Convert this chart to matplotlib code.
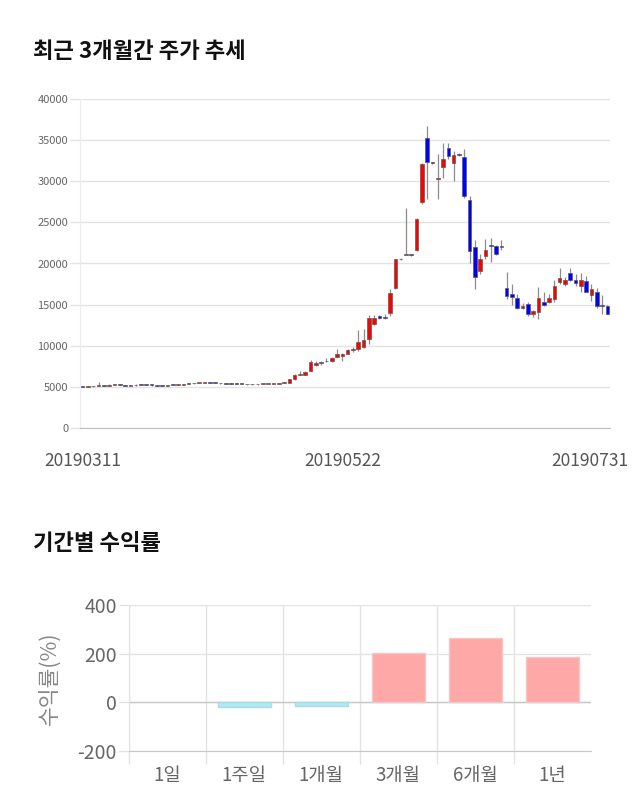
import numpy as np
import matplotlib
matplotlib.use("Agg")
import matplotlib.pyplot as plt
import matplotlib.transforms as mtransforms

plt.rcParams['font.family'] = ['Noto Sans CJK KR', 'DejaVu Sans']
plt.rcParams['axes.unicode_minus'] = False

# -----------------------------------------
# DATA : daily candles (open, high, low, close)
# -----------------------------------------
opens = [5000, 4980, 5050, 5100, 5150, 5120, 5250, 5280, 5200, 5150,
         5180, 5280, 5250, 5300, 5180, 5150, 5130, 5220, 5200, 5250,
         5380, 5420, 5450, 5500, 5550, 5500, 5450, 5420, 5400, 5380,
         5350, 5330, 5300, 5320, 5340, 5350, 5380,
         5350, 5450, 5500, 5900, 6500, 6450, 6950, 7650, 7850, 8100,
         8150, 8650, 8750, 9050, 9450, 9600, 9900, 10800, 12650, 13600,
         13450, 14000, 17000, 20500, 21050, 21100, 21600, 27500, 35200,
         32300, 30300, 31700, 34000, 32200, 33300, 33000, 27700, 22000,
         19050, 20900, 22200, 22100, 22000,
         17050, 16350, 15850, 14550, 15100, 13800, 14150, 15300, 15300,
         15650, 17800, 17550, 18900, 18050, 17250, 17850, 16150, 16550,
         15000, 14800]
highs = [5050, 5080, 5150, 5600, 5200, 5300, 5320, 5300, 5250, 5220,
         5300, 5320, 5300, 5320, 5220, 5200, 5250, 5280, 5300, 5400,
         5450, 5500, 5550, 5600, 5600, 5550, 5500, 5480, 5450, 5420,
         5400, 5380, 5360, 5380, 5380, 5400, 5420,
         5500, 5650, 5950, 6600, 6900, 6950, 8300, 8200, 8150, 8450,
         8600, 9550, 9100, 9600, 9800, 11900, 12000, 13700, 13700, 13700,
         13900, 16900, 20600, 20700, 26700, 21150, 25500, 32200, 36700,
         32400, 33300, 34700, 34700, 33700, 33400, 33900, 28200, 22900,
         21200, 23000, 23150, 22300, 22800,
         18950, 17550, 16250, 15200, 15300, 14400, 17150, 16500, 16250,
         17950, 19400, 18300, 19400, 18700, 18800, 18450, 17450, 17050,
         16200, 15000]
lows = [4950, 4960, 5000, 5080, 5100, 5100, 5200, 5180, 5120, 5100,
        5150, 5220, 5200, 5150, 5120, 5100, 5120, 5180, 5180, 5230,
        5350, 5400, 5420, 5450, 5480, 5420, 5400, 5380, 5350, 5330,
        5300, 5280, 5260, 5280, 5300, 5300, 5330,
        5320, 5420, 5450, 5850, 6400, 6400, 6900, 7500, 7600, 8000,
        8050, 8600, 8100, 8950, 9200, 9400, 9700, 10200, 12500, 13200,
        13250, 13600, 16900, 20400, 21000, 20950, 21500, 27200, 27800,
        32100, 27800, 30450, 32700, 30050, 33100, 28000, 20100, 16950,
        18700, 20600, 20200, 21000, 21600,
        15650, 14900, 14450, 14450, 13650, 13500, 13200, 14800, 15200,
        15350, 17500, 17300, 17850, 17300, 16500, 16500, 15400, 14600,
        13900, 13800]
closes = [4980, 5050, 5100, 5150, 5120, 5250, 5280, 5200, 5150, 5180,
          5280, 5250, 5230, 5180, 5150, 5130, 5220, 5200, 5250, 5380,
          5420, 5450, 5500, 5550, 5500, 5450, 5420, 5400, 5380, 5350,
          5330, 5300, 5320, 5340, 5350, 5380, 5400,
          5450, 5600, 5900, 6500, 6550, 6800, 8050, 7950, 8000, 8200,
          8500, 9050, 9000, 9450, 9600, 10400, 10700, 13350, 13400, 13350,
          13350, 16450, 20500, 20600, 21100, 21000, 25400, 32100, 32300,
          32200, 30350, 32750, 33100, 33200, 33250, 28200, 21500, 18400,
          20600, 21650, 22150, 21200, 22100,
          16050, 15950, 14600, 14800, 13800, 14200, 15750, 14950, 15850,
          17250, 18250, 17950, 18000, 17600, 17950, 16550, 16850, 14800,
          14800, 13800]
date_labels = ["20190311", "20190522", "20190731"]
date_index = [0, 49, 99]

# period returns
periods = ["1일", "1주일", "1개월", "3개월", "6개월", "1년"]
returns = [0.0, -20.0, -16.0, 202.0, 264.0, 186.0]

# -----------------------------------------
# FIGURE
# -----------------------------------------
fig = plt.figure(figsize=(6.4, 8.1), dpi=100)

fig.text(33/640, 1-52/810, "최근 3개월간 주가 추세", fontsize=16, fontweight='bold',
         color='#111111', ha='left', va='center')
fig.text(33/640, 1-544/810, "기간별 수익률", fontsize=16, fontweight='bold',
         color='#111111', ha='left', va='center')

# -----------------------------------------
# CANDLE CHART
# -----------------------------------------
ax = fig.add_axes([80/640, 1-428/810, 530/640, 329/810])

o = np.array(opens, dtype=float)
h = np.array(highs, dtype=float)
l = np.array(lows, dtype=float)
c = np.array(closes, dtype=float)
x = np.arange(len(o))

up = c >= o
colors = np.where(up, '#ff0000', '#0000ff')
body_low = np.minimum(o, c)
body_h = np.maximum(np.abs(c - o), 90)

ax.vlines(x, l, h, color='#8c8c8c', linewidth=0.9, zorder=2)
ax.bar(x, body_h, bottom=body_low, width=0.68, color=colors,
       edgecolor='#5a5a5a', linewidth=0.5, zorder=3)

ax.set_xlim(-0.5, len(o) - 0.5)
ax.set_ylim(0, 40000)
ax.set_yticks(np.arange(0, 40001, 5000))
ax.tick_params(axis='y', labelsize=8, labelcolor='#666666', length=7,
               color='#e3e3e3', width=1, pad=1.5)
ax.grid(axis='y', color='#e3e3e3', linewidth=1, zorder=0)
ax.set_axisbelow(True)

ax.set_xticks(date_index)
ax.set_xticklabels(date_labels)
ax.tick_params(axis='x', labelsize=12.5, labelcolor='#555555', length=0, pad=17)
shift = mtransforms.ScaledTranslation(-17/100, 0, fig.dpi_scale_trans)
last = ax.get_xticklabels()[-1]
last.set_transform(last.get_transform() + shift)

for side in ['top', 'right']:
    ax.spines[side].set_visible(False)
ax.spines['left'].set_color('#ececec')
ax.spines['bottom'].set_color('#bdbdbd')

# -----------------------------------------
# RETURNS BAR CHART
# -----------------------------------------
bx = fig.add_axes([128.7/640, 1-751/810, 462/640, 146/810])

bar_colors = ['#ffa8a8' if r >= 0 else '#b4e8f0' for r in returns]
edge_colors = ['none' if r == 0 else ('#f0c8c8' if r > 0 else '#a8dce6')
               for r in returns]
xp = np.arange(len(periods))
bx.bar(xp, returns, width=0.69, color=bar_colors, edgecolor=edge_colors,
       linewidth=1, zorder=3)

bx.set_xlim(-0.5, len(periods) - 0.5)
bx.set_ylim(-200, 400)
bx.set_yticks([-200, 0, 200, 400])
bx.set_xticks(xp)
bx.set_xticklabels(periods)
bx.set_xticks(np.arange(-0.5, len(periods) - 1), minor=True)
bx.tick_params(axis='x', which='major', length=0, labelsize=13.5,
               labelcolor='#666666', pad=10)
bx.tick_params(axis='x', which='minor', length=9, color='#e3e3e3', width=1)
bx.tick_params(axis='y', labelsize=14, labelcolor='#666666', length=7,
               color='#e3e3e3', width=1, pad=1.5)
bx.grid(axis='y', color='#e3e3e3', linewidth=1, zorder=0)
bx.grid(axis='x', which='minor', color='#e3e3e3', linewidth=1, zorder=0)
bx.axhline(0, color='#c8c8c8', linewidth=1, zorder=2)
bx.set_axisbelow(True)
bx.set_ylabel("수익률(%)", fontsize=15.5, color='#888888', labelpad=12)

for side in ['top', 'right']:
    bx.spines[side].set_visible(False)
bx.spines['left'].set_color('#e3e3e3')
bx.spines['bottom'].set_color('#c8c8c8')

fig.savefig("out.png", dpi=100)
